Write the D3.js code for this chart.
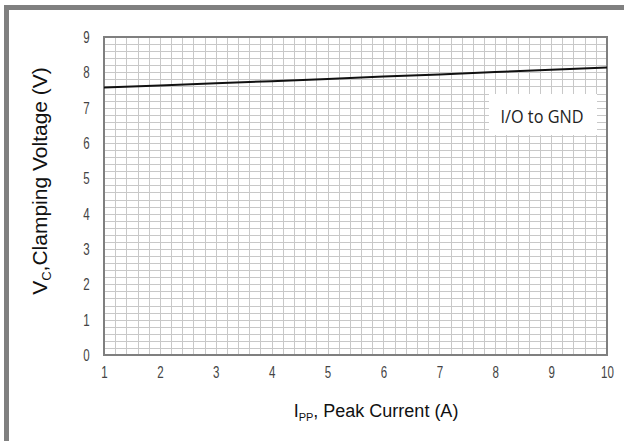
<!DOCTYPE html>
<html><head><meta charset="utf-8">
<script src="https://cdn.jsdelivr.net/npm/d3@7"></script>
<style>html,body{margin:0;padding:0;background:#fff;}svg{display:block;}</style>
</head><body>
<svg id="c" width="624" height="441"></svg>
<script>
const currents = [1, 2, 3, 4, 5, 6, 7, 8, 9, 10];
const voltages = [7.57, 7.63, 7.69, 7.75, 7.81, 7.88, 7.94, 8.01, 8.07, 8.14];
const xTicks = [1, 2, 3, 4, 5, 6, 7, 8, 9, 10];
const yTicks = [0, 1, 2, 3, 4, 5, 6, 7, 8, 9];
const legendLabel = "I/O to GND";

const svg = d3.select("#c");
const W = 624, H = 441;
const m = {left: 104, right: 607, top: 37, bottom: 355};

// outer frame (top and left bars)
svg.append("rect").attr("x", 4).attr("y", 5).attr("width", W - 4).attr("height", 5).attr("fill", "#808080");
svg.append("rect").attr("x", 4).attr("y", 5).attr("width", 5).attr("height", H - 5).attr("fill", "#808080");

const x = d3.scaleLinear().domain([1, 10]).range([m.left, m.right]);
const y = d3.scaleLinear().domain([0, 9]).range([m.bottom, m.top]);

// minor grid (every 0.2)
const xMinor = d3.range(0, 46).map(i => 1 + i * 0.2);
const yMinor = d3.range(0, 46).map(i => i * 0.2);
const g = svg.append("g").attr("shape-rendering", "crispEdges");
g.selectAll("line.vx").data(xMinor).enter().append("line")
  .attr("x1", d => Math.round(x(d)) + 0.5).attr("x2", d => Math.round(x(d)) + 0.5)
  .attr("y1", m.top).attr("y2", m.bottom)
  .attr("stroke", "#c8c8c8").attr("stroke-width", 1);
g.selectAll("line.hy").data(yMinor).enter().append("line")
  .attr("y1", d => Math.round(y(d)) + 0.5).attr("y2", d => Math.round(y(d)) + 0.5)
  .attr("x1", m.left).attr("x2", m.right)
  .attr("stroke", "#c8c8c8").attr("stroke-width", 1);

// plot border
svg.append("rect").attr("x", m.left).attr("y", m.top)
  .attr("width", m.right - m.left).attr("height", m.bottom - m.top)
  .attr("fill", "none").attr("stroke", "#7f7f7f").attr("stroke-width", 2);

// axes (labels only), condensed look via horizontal scale
const tickFont = "'Liberation Sans', Arial, sans-serif";
const xAxis = svg.append("g").attr("transform", `translate(0,${m.bottom})`)
  .call(d3.axisBottom(x).tickValues(xTicks).tickSize(0).tickPadding(11).tickFormat(d3.format("d")));
xAxis.select(".domain").remove();
xAxis.selectAll("text").attr("font-family", tickFont).attr("font-size", 17).attr("fill", "#444")
  .attr("transform", "scale(0.68,1)");

const yAxis = svg.append("g").attr("transform", `translate(${m.left},0)`)
  .call(d3.axisLeft(y).tickValues(yTicks).tickSize(0).tickPadding(21).tickFormat(d3.format("d")));
yAxis.select(".domain").remove();
yAxis.selectAll("text").attr("font-family", tickFont).attr("font-size", 17).attr("fill", "#444")
  .attr("transform", "scale(0.68,1)");

// data line
const line = d3.line().x((d, i) => x(currents[i])).y(d => y(d));
svg.append("path").datum(voltages).attr("d", line)
  .attr("fill", "none").attr("stroke", "#111").attr("stroke-width", 2);

// legend box
svg.append("rect").attr("x", 489).attr("y", 94).attr("width", 108).attr("height", 41).attr("fill", "#fff");
svg.append("text").attr("x", 542).attr("y", 123).attr("text-anchor", "middle")
  .attr("font-family", "'Open Sans', sans-serif").attr("font-size", 18)
  .attr("fill", "#222").attr("textLength", 83).attr("lengthAdjust", "spacingAndGlyphs")
  .text(legendLabel);

// axis titles
const titleFont = "'Liberation Sans', Arial, sans-serif";
const xt = svg.append("text").attr("x", 376).attr("y", 417).attr("text-anchor", "middle")
  .attr("font-family", titleFont).attr("font-size", 18).attr("fill", "#111");
xt.append("tspan").text("I");
xt.append("tspan").attr("font-size", 11).attr("dy", 4).text("PP");
xt.append("tspan").attr("dy", -4).text(", Peak Current (A)");

const yt = svg.append("text").attr("transform", "translate(47,181) rotate(-90)").attr("text-anchor", "middle")
  .attr("font-family", titleFont).attr("font-size", 21).attr("fill", "#111");
yt.append("tspan").text("V");
yt.append("tspan").attr("font-size", 13).attr("dy", 4).text("C");
yt.append("tspan").attr("dy", -4).text(",Clamping Voltage (V)");
</script>
</body></html>
